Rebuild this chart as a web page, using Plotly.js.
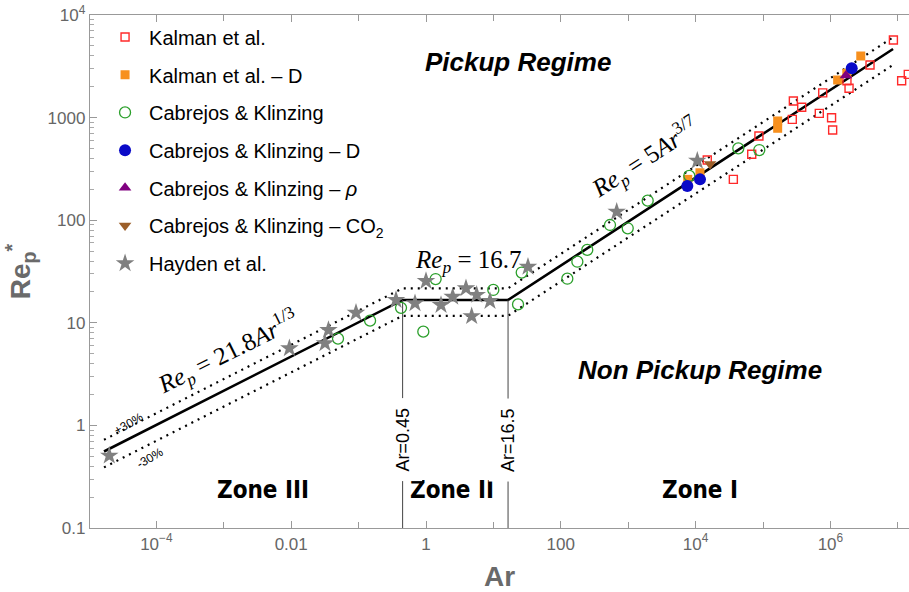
<!DOCTYPE html>
<html><head><meta charset="utf-8">
<script src="https://cdn.plot.ly/plotly-3.0.1.min.js"></script>
<style>html,body{margin:0;padding:0;background:#fff;}#chart{width:909px;height:592px;}</style>
</head><body><div id="chart"></div>
<script>
// ---- data ----
const kalmanAr = [1.49e4, 3.63e4, 6.8e4, 8.7e4, 2.72e5, 2.82e5, 3.75e5, 6.84e5, 7.69e5, 1.04e6, 1.08e6, 1.76e6, 1.89e6, 3.87e6, 8.6e6, 1.14e7, 1.43e7];
const kalmanRe = [386, 250, 439, 662, 962, 1450, 1260, 1100, 1740, 998, 757, 2290, 1930, 3260, 5710, 2290, 2640];
const kalmanDAr = [7640, 11600, 1.65e5, 1.65e5, 1.28e6, 1.75e6, 2.82e6];
const kalmanDRe = [250, 290, 927, 787, 2325, 2700, 3985];
const ckAr = [0.0495, 0.148, 0.426, 0.912, 1.39, 9.97, 23.2, 26.3, 125, 176, 247, 537, 984, 1946, 8070, 43000, 88100];
const ckRe = [7.0, 10.5, 14.0, 8.2, 26.7, 20.9, 15.1, 30.9, 26.9, 39.4, 51.3, 89.8, 83.4, 155, 270, 502, 483];
const ckDAr = [7530, 11620, 2.07e6];
const ckDRe = [215, 250, 3020];
const ckRhoAr = [1.70e6];
const ckRhoRe = [2570];
const ckCO2Ar = [16400];
const ckCO2Re = [353];
const haydenAr = [2.0e-5, 9.4e-3, 0.0317, 0.0357, 0.0915, 0.359, 0.687, 1.0, 1.67, 2.49, 3.92, 5.65, 4.76, 8.9, 32.6, 675, 10600];
const haydenRe = [0.507, 5.64, 6.31, 8.51, 12.5, 16.7, 15.5, 25.5, 14.9, 17.9, 21.7, 18.7, 11.6, 16.3, 35.2, 121, 380];

// correlation Re_p = 21.8Ar^(1/3) | 16.7 | 5Ar^(3/7), with +/-30% bands
const corrAr = [1.67e-5, 0.45, 16.5, 8.5e6];
const corrRe = [0.557, 16.7, 16.7, 4660];
const upperRe = [0.724, 21.7, 21.7, 6060];
const lowerRe = [0.390, 11.7, 11.7, 3260];
const zoneBoundAr = [0.45, 16.5];
const zoneBoundRe = [0.1, 16.7];

const xTickVals = [1e-4, 1e-2, 1, 100, 1e4, 1e6];
const xTickText = ['10<sup>−4</sup>', '0.01', '1', '100', '10<sup>4</sup>', '10<sup>6</sup>'];
const yTickVals = [0.1, 1, 10, 100, 1000, 10000];
const yTickText = ['0.1', '1', '10', '100', '1000', '10<sup>4</sup>'];

const legendNames = ['Kalman et al.', 'Kalman et al. – D', 'Cabrejos &amp; Klinzing', 'Cabrejos &amp; Klinzing – D',
  'Cabrejos &amp; Klinzing – <i>ρ</i>', 'Cabrejos &amp; Klinzing – CO<sub>2</sub>', 'Hayden et al.'];

const traces = [];
function line(x, y, dash, width, color) {
  traces.push({x: x, y: y, type: 'scatter', mode: 'lines', showlegend: false, hoverinfo: 'skip',
    line: {color: color, width: width, dash: dash}});
}
line(corrAr, upperRe, '2px,5px', 2.2, '#000');
line(corrAr, lowerRe, '2px,5px', 2.2, '#000');
line(corrAr, corrRe, 'solid', 2.6, '#000');
line([zoneBoundAr[0], zoneBoundAr[0]], zoneBoundRe, 'solid', 1, '#444');
line([zoneBoundAr[1], zoneBoundAr[1]], zoneBoundRe, 'solid', 1, '#444');

function pts(x, y, name, symbol, size, color, lw, lc, grp) {
  traces.push({x: x, y: y, type: 'scatter', mode: 'markers', name: name, legendgroup: grp,
    marker: {symbol: symbol, size: size, color: color, line: {width: lw, color: lc}}});
}
pts(kalmanAr, kalmanRe, legendNames[0], 'square-open', 8, '#ff2a2a', 1.4, '#ff2a2a', 'g1');
pts(kalmanDAr, kalmanDRe, legendNames[1], 'square', 9, '#f7901e', 0, '#f7901e', 'g2');
pts(ckAr, ckRe, legendNames[2], 'circle-open', 11, '#2ca02c', 1.3, '#2ca02c', 'g3');
pts(ckDAr, ckDRe, legendNames[3], 'circle', 12, '#0a0ac8', 0, '#0a0ac8', 'g4');
pts(ckRhoAr, ckRhoRe, legendNames[4], 'triangle-up', 11, '#800080', 0, '#800080', 'g5');
pts(ckCO2Ar, ckCO2Re, legendNames[5], 'triangle-down', 11, '#9c5f2a', 0, '#9c5f2a', 'g6');
pts(haydenAr, haydenRe, legendNames[6], 'star', 14, '#808080', 0, '#808080', 'g7');

const serif = 'Liberation Serif, Times New Roman, serif';
const sans = 'Liberation Sans, Arial, sans-serif';
const narrow = 'DejaVu Sans Condensed, Liberation Sans Narrow, sans-serif';
function ann(x, y, text, size, family, angle, extra) {
  return Object.assign({xref: 'x', yref: 'y', x: x, y: y, text: text, showarrow: false,
    font: {size: size, family: family, color: '#000'}, textangle: angle || 0}, extra || {});
}
const annotations = [
  ann(1.365, 3.542, '<b><i>Pickup Regime</i></b>', 26, sans),
  ann(4.065, 0.54, '<b><i>Non Pickup Regime</i></b>', 26, sans),
  ann(-2.418, -0.63, '<b>Zone III</b>', 24, narrow),
  ann(0.386, -0.63, '<b>Zone II</b>', 24, narrow),
  ann(4.065, -0.63, '<b>Zone I</b>', 24, narrow),
  ann(-2.94, 0.715, '<i>Re<sub>p</sub></i> = 21.8<i>Ar</i><sup>1/3</sup>', 25, serif, -26.5),
  ann(0.623, 1.593, '<i>Re<sub>p</sub></i> = 16.7', 25, serif),
  ann(3.25, 2.606, '<i>Re<sub>p</sub></i> = 5<i>Ar</i><sup>3/7</sup>', 25, serif, -33),
  ann(-4.42, 0.014, '+30%', 12, sans, -30),
  ann(-4.095, -0.321, '-30%', 12, sans, -30),
  ann(Math.log10(zoneBoundAr[0]), -0.142, 'Ar=0.45', 18, sans, -90, {bgcolor: '#fff', borderpad: 9}),
  ann(Math.log10(zoneBoundAr[1]), -0.142, 'Ar=16.5', 18, sans, -90, {bgcolor: '#fff', borderpad: 9})
];

const layout = {
  width: 909, height: 592,
  margin: {l: 90, r: 0, t: 15, b: 64},
  paper_bgcolor: '#fff', plot_bgcolor: '#fff',
  showlegend: true,
  legend: {x: 0.0135, y: 0.995, xanchor: 'left', yanchor: 'top', bgcolor: 'rgba(0,0,0,0)',
    font: {size: 20, family: sans, color: '#000'}, tracegroupgap: 8.7, itemwidth: 38},
  xaxis: {type: 'log', range: [-4.985, 7.166], showgrid: false, zeroline: false,
    showline: true, linecolor: '#999', linewidth: 1.2, mirror: 'allticks',
    ticks: 'inside', ticklen: 7, tickcolor: '#999', tickwidth: 1,
    minor: {ticks: 'inside', ticklen: 6, tickcolor: '#999', dtick: 1},
    tickmode: 'array', tickvals: xTickVals, ticktext: xTickText,
    tickfont: {size: 17, family: sans, color: '#666'},
    title: {text: '<b>Ar</b>', font: {size: 28, family: sans, color: '#6a6a6a'}, standoff: 16}},
  yaxis: {type: 'log', range: [-1, 4], showgrid: false, zeroline: false,
    showline: true, linecolor: '#999', linewidth: 1.2, mirror: false,
    ticks: 'inside', ticklen: 7, tickcolor: '#999', tickwidth: 1,
    minor: {ticks: 'inside', ticklen: 4, tickcolor: '#aaa', dtick: 'D1'},
    tickmode: 'array', tickvals: yTickVals, ticktext: yTickText,
    tickfont: {size: 17, family: sans, color: '#666'},
    title: {text: '<b>Re<sub>p</sub><sup>*</sup></b>', font: {size: 28, family: sans, color: '#6a6a6a'}, standoff: 8}},
  annotations: annotations
};
Plotly.newPlot('chart', traces, layout, {staticPlot: true});
</script></body></html>
